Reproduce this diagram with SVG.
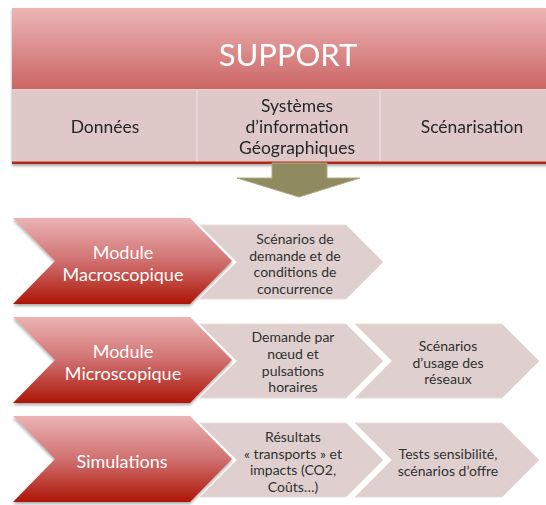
<svg xmlns="http://www.w3.org/2000/svg" width="546" height="505" viewBox="0 0 546 505">
  <defs>
    <linearGradient id="gTitle" x1="0" y1="0" x2="0" y2="1">
      <stop offset="0" stop-color="#ecb5b5"/>
      <stop offset="1" stop-color="#cc6565"/>
    </linearGradient>
    <linearGradient id="gRed" x1="0" y1="0" x2="0" y2="1">
      <stop offset="0" stop-color="#ecb3b3"/>
      <stop offset="0.5" stop-color="#d07070"/>
      <stop offset="1" stop-color="#ad1606"/>
    </linearGradient>
    <filter id="shadow" x="-5%" y="-5%" width="115%" height="125%">
      <feGaussianBlur in="SourceAlpha" stdDeviation="1.6"/>
      <feOffset dx="0" dy="2" result="b"/>
      <feComponentTransfer><feFuncA type="linear" slope="0.35"/></feComponentTransfer>
      <feMerge><feMergeNode/><feMergeNode in="SourceGraphic"/></feMerge>
    </filter>
    <style>
      text { font-family: Lato, "Open Sans", "Liberation Sans", sans-serif; text-anchor: middle; }
      .title { font-size: 31px; fill: #ffffff; }
      .band { font-size: 17.5px; fill: #262626; }
      .mod { font-size: 18px; fill: #ffffff; }
      .step { font-size: 14px; fill: #303030; }
      .red { fill: url(#gRed); filter: url(#shadow); }
      .grey { fill: #dfd0cf; stroke: #e8dcdb; stroke-width: 1; }
    </style>
  </defs>

  <!-- SUPPORT banner -->
  <g id="support" filter="url(#shadow)">
    <rect x="12" y="8" width="552" height="81" fill="url(#gTitle)"/>
    <rect x="12" y="89" width="552" height="73" fill="#dfc8c8"/>
    <line x1="12" y1="89.5" x2="564" y2="89.5" stroke="#e6d2d2" stroke-width="1"/>
    <line x1="197" y1="90" x2="197" y2="162" stroke="#ece0e0" stroke-width="1.2"/>
    <line x1="380" y1="90" x2="380" y2="162" stroke="#ece0e0" stroke-width="1.2"/>
    <rect x="12" y="161.5" width="552" height="2.5" fill="#b3261c"/>
    <text class="title" x="288" y="66">SUPPORT</text>
    <text class="band" x="105" y="133">Données</text>
    <text class="band" x="297" y="112">Systèmes</text>
    <text class="band" x="297" y="133">d’information</text>
    <text class="band" x="297" y="154">Géographiques</text>
    <text class="band" x="472" y="133">Scénarisation</text>
  </g>

  <!-- Flow arrow from the banner down to the modules -->
  <g id="connectors">
    <path d="M272,163 H327 V178 H360 L299,197 L237,178 H272 Z" fill="#8f8a5f" stroke="#b0aa80" stroke-width="1"/>
  </g>

  <!-- Row 1: macroscopic module -->
  <g id="step-macro-1">
    <path class="grey" d="M200,225 H346 L383,262 L346,299 H200 L237,262 Z"/>
    <text class="step" x="295" y="244">Scénarios de</text>
    <text class="step" x="295" y="261">demande et de</text>
    <text class="step" x="295" y="277">conditions de</text>
    <text class="step" x="295" y="294">concurrence</text>
  </g>
  <g id="module-macro">
    <path class="red" d="M13,218 H190 L232,261 L190,304 H13 L55,261 Z"/>
    <text class="mod" x="123" y="259">Module</text>
    <text class="mod" x="123" y="281">Macroscopique</text>
  </g>

  <!-- Row 2: microscopic module -->
  <g id="step-micro-2">
    <path class="grey" d="M355,324 H502 L539,361 L502,398 H355 L392,361 Z"/>
    <text class="step" x="448" y="351">Scénarios</text>
    <text class="step" x="448" y="368">d’usage des</text>
    <text class="step" x="448" y="384">réseaux</text>
  </g>
  <g id="step-micro-1">
    <path class="grey" d="M200,324 H346 L383,361 L346,398 H200 L237,361 Z"/>
    <text class="step" x="293" y="342">Demande par</text>
    <text class="step" x="293" y="359">nœud et</text>
    <text class="step" x="293" y="376">pulsations</text>
    <text class="step" x="293" y="392">horaires</text>
  </g>
  <g id="module-micro">
    <path class="red" d="M13,317 H190 L232,360 L190,403 H13 L55,360 Z"/>
    <text class="mod" x="123" y="358">Module</text>
    <text class="mod" x="123" y="380">Microscopique</text>
  </g>

  <!-- Row 3: simulations -->
  <g id="step-sim-2">
    <path class="grey" d="M355,423 H502 L539,460 L502,497 H355 L392,460 Z"/>
    <text class="step" x="448" y="459">Tests sensibilité,</text>
    <text class="step" x="448" y="476">scénarios d’offre</text>
  </g>
  <g id="step-sim-1">
    <path class="grey" d="M200,423 H346 L383,460 L346,497 H200 L237,460 Z"/>
    <text class="step" x="293" y="442">Résultats</text>
    <text class="step" x="293" y="459">« transports » et</text>
    <text class="step" x="293" y="475">impacts (CO2,</text>
    <text class="step" x="293" y="492">Coûts…)</text>
  </g>
  <g id="module-sim">
    <path class="red" d="M13,416 H190 L232,459 L190,502 H13 L55,459 Z"/>
    <text class="mod" x="122" y="468">Simulations</text>
  </g>
</svg>
